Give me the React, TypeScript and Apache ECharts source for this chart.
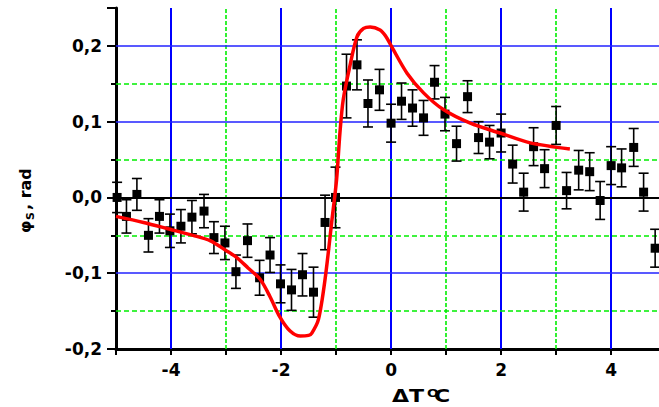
import React, { useEffect, useRef } from "react";
import * as echarts from "echarts";

const pointX = [-4.98, -4.81, -4.62, -4.41, -4.21, -4.02, -3.82, -3.62, -3.40, -3.22, -3.02, -2.82, -2.61, -2.39, -2.20, -2.01, -1.81, -1.61, -1.41, -1.20, -1.01, -0.81, -0.62, -0.42, -0.21, 0.00, 0.19, 0.39, 0.59, 0.79, 0.98, 1.19, 1.39, 1.59, 1.79, 2.00, 2.21, 2.41, 2.59, 2.79, 3.00, 3.19, 3.41, 3.61, 3.80, 4.00, 4.19, 4.41, 4.59, 4.80];
const pointY = [0.0, -0.025, 0.004, -0.050, -0.025, -0.044, -0.038, -0.026, -0.018, -0.053, -0.060, -0.098, -0.057, -0.106, -0.076, -0.114, -0.122, -0.102, -0.125, -0.033, 0.0, 0.147, 0.175, 0.124, 0.142, 0.098, 0.127, 0.118, 0.105, 0.152, 0.110, 0.071, 0.133, 0.079, 0.073, 0.085, 0.044, 0.007, 0.067, 0.038, 0.095, 0.009, 0.036, 0.034, -0.004, 0.042, 0.039, 0.066, 0.007, -0.067];
const pointErr = [0.02, 0.022, 0.021, 0.022, 0.022, 0.022, 0.022, 0.022, 0.022, 0.021, 0.022, 0.022, 0.022, 0.023, 0.023, 0.025, 0.027, 0.028, 0.033, 0.036, 0.04, 0.042, 0.033, 0.031, 0.027, 0.025, 0.024, 0.024, 0.023, 0.022, 0.022, 0.023, 0.021, 0.021, 0.022, 0.025, 0.025, 0.025, 0.025, 0.025, 0.025, 0.024, 0.026, 0.025, 0.025, 0.025, 0.025, 0.025, 0.025, 0.025];

const curveX = [-5.0, -4.5, -4.02, -3.6, -3.29, -3.0, -2.81, -2.6, -2.38, -2.2, -2.02, -1.84, -1.65, -1.5, -1.44, -1.32, -1.2, -1.08, -0.99, -0.93, -0.87, -0.75, -0.62, -0.5, -0.38, -0.2, -0.1, 0.01, 0.29, 0.59, 0.95, 1.44, 1.98, 2.53, 3.25];
const curveY = [-0.025, -0.033, -0.042, -0.050, -0.057, -0.070, -0.079, -0.093, -0.108, -0.131, -0.158, -0.176, -0.183, -0.182, -0.179, -0.161, -0.108, -0.033, 0.024, 0.085, 0.129, 0.173, 0.212, 0.223, 0.225, 0.221, 0.213, 0.199, 0.164, 0.138, 0.116, 0.098, 0.085, 0.072, 0.064];

const blueX = [-4, -2, 0, 2, 4];
const greenX = [-3, -1, 1, 3];
const blueY = [-0.1, 0.1, 0.2];
const greenY = [-0.15, -0.05, 0.05, 0.15];
const zeroY = [0];

const FONT = "'DejaVu Sans', Arial, sans-serif";

export default function App() {
  const ref = useRef<HTMLDivElement>(null);
  useEffect(() => {
    if (!ref.current) return;
    const chart = echarts.init(ref.current, null, { renderer: "svg" });
    const blue = "#0000ff";
    const green = "#00ee00";
    const gridLines: any[] = [];
    blueX.forEach((v) => gridLines.push({ xAxis: v, lineStyle: { color: blue, width: 2, type: "solid" } }));
    greenX.forEach((v) => gridLines.push({ xAxis: v, lineStyle: { color: green, width: 1.6, type: [4, 2] } }));
    blueY.forEach((v) => gridLines.push({ yAxis: v, lineStyle: { color: "#2222ff", width: 1.5, type: "solid" } }));
    greenY.forEach((v) => gridLines.push({ yAxis: v, lineStyle: { color: green, width: 1.6, type: [5, 3] } }));
    zeroY.forEach((v) => gridLines.push({ yAxis: v, lineStyle: { color: "#000", width: 2, type: "solid" } }));

    const pts = pointX.map((x, i) => [x, pointY[i], pointErr[i]]);
    const curve = curveX.map((x, i) => [x, curveY[i]]);

    chart.setOption({
      animation: false,
      grid: { left: 116, right: 0, top: 8, bottom: 58, containLabel: false },
      xAxis: {
        type: "value",
        min: -5,
        max: 4.87,
        interval: 1,
        axisLine: { show: true, onZero: false, lineStyle: { color: "#000", width: 3 } },
        axisTick: { show: true, length: 6, lineStyle: { color: "#000", width: 2 } },
        splitLine: { show: false },
        axisLabel: {
          margin: 12,
          color: "#000",
          fontFamily: FONT,
          fontWeight: "bold",
          fontSize: 17,
          showMaxLabel: false,
          formatter: (v: number) => {
            const r = Math.round(v);
            return Math.abs(v - r) < 1e-6 && r % 2 === 0 ? String(r) : "";
          },
        },
      },
      yAxis: {
        type: "value",
        min: -0.2,
        max: 0.25,
        interval: 0.1,
        axisLine: { show: true, onZero: false, lineStyle: { color: "#000", width: 3 } },
        axisTick: { show: true, length: 9, lineStyle: { color: "#000", width: 2 } },
        minorTick: { show: true, splitNumber: 2, length: 5, lineStyle: { color: "#000", width: 2 } },
        splitLine: { show: false },
        axisLabel: {
          margin: 14,
          color: "#000",
          fontFamily: FONT,
          fontWeight: "bold",
          fontSize: 17,
          showMaxLabel: false,
          formatter: (v: number) => {
            const r = Math.round(v * 10);
            if (Math.abs(v * 10 - r) > 1e-6) return "";
            return (r / 10).toFixed(1).replace(".", ",");
          },
        },
      },
      graphic: [
        {
          type: "group",
          x: 25,
          y: 196,
          rotation: Math.PI / 2,
          children: [
            { type: "text", x: -37, y: 0, style: { text: "φ", font: `bold 16px ${FONT}`, fill: "#000", textAlign: "left", textVerticalAlign: "middle" } },
            { type: "text", x: -24, y: 5, style: { text: "S", font: `bold 11px ${FONT}`, fill: "#000", textAlign: "left", textVerticalAlign: "middle" } },
            { type: "text", x: -14, y: 0, style: { text: ", rad", font: `bold 16px ${FONT}`, fill: "#000", textAlign: "left", textVerticalAlign: "middle" } },
          ],
        },
        { type: "text", x: 392, y: 405, scaleX: 1.3, style: { text: "ΔT", font: `bold 17px ${FONT}`, fill: "#000", textAlign: "left", textVerticalAlign: "bottom" } },
        { type: "text", x: 427, y: 399, scaleX: 1.25, style: { text: "O", font: `bold 11px ${FONT}`, fill: "#000", textAlign: "left", textVerticalAlign: "bottom" } },
        { type: "text", x: 434, y: 405, scaleX: 1.3, style: { text: "C", font: `bold 17px ${FONT}`, fill: "#000", textAlign: "left", textVerticalAlign: "bottom" } },
      ],
      series: [
        {
          type: "line",
          data: [],
          z: 1,
          silent: true,
          markLine: {
            z: 1,
            silent: true,
            symbol: ["none", "none"],
            label: { show: false },
            animation: false,
            data: gridLines,
          },
        },
        {
          type: "custom",
          z: 3,
          data: pts,
          renderItem: (params: any, api: any) => {
            const x = api.value(0);
            const y = api.value(1);
            const e = api.value(2);
            const top = api.coord([x, y + e]);
            const bot = api.coord([x, y - e]);
            const hw = 5;
            const st = { stroke: "#000", lineWidth: 1.6 };
            return {
              type: "group",
              children: [
                { type: "line", shape: { x1: top[0], y1: top[1], x2: bot[0], y2: bot[1] }, style: st },
                { type: "line", shape: { x1: top[0] - hw, y1: top[1], x2: top[0] + hw, y2: top[1] }, style: st },
                { type: "line", shape: { x1: bot[0] - hw, y1: bot[1], x2: bot[0] + hw, y2: bot[1] }, style: st },
              ],
            };
          },
        },
        {
          type: "scatter",
          z: 4,
          data: pts.map((p) => [p[0], p[1]]),
          symbol: "rect",
          symbolSize: 9,
          itemStyle: { color: "#000", opacity: 1 },
        },
        {
          type: "line",
          z: 5,
          data: curve,
          smooth: 0.3,
          showSymbol: false,
          symbol: "none",
          lineStyle: { color: "#ff0000", width: 3.5 },
        },
      ],
    });
    return () => chart.dispose();
  }, []);
  return <div ref={ref} style={{ width: 659, height: 407, position: "absolute", left: 0, top: 0 }} />;
}
